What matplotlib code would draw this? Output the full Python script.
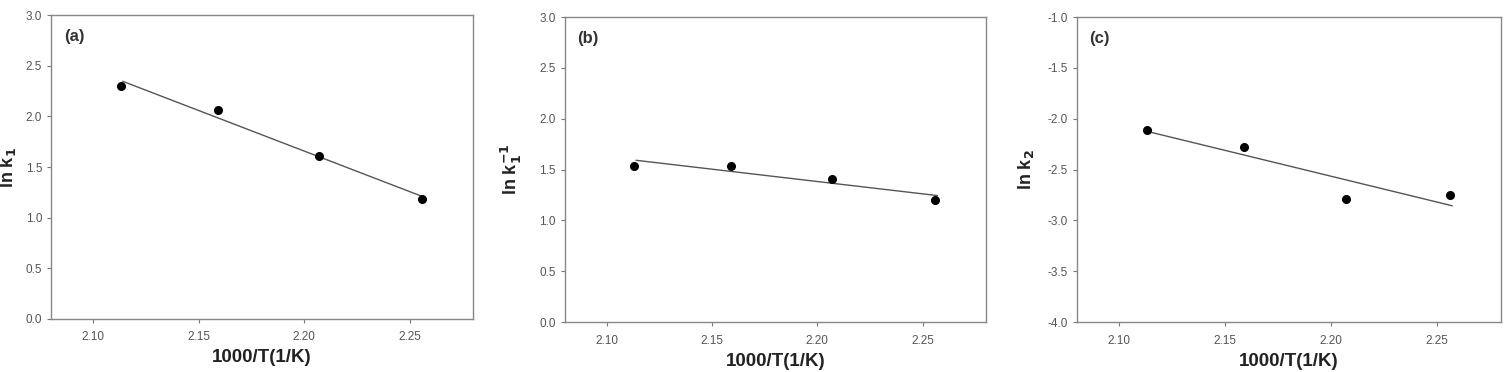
import matplotlib
matplotlib.use("Agg")
import matplotlib.pyplot as plt
import numpy as np

plt.rcParams['font.family'] = ['Liberation Sans', 'DejaVu Sans']

# 1000/T values (1/K)
inv_T = [2.113, 2.159, 2.207, 2.256]

# measured points
ln_k1 = [2.30, 2.06, 1.61, 1.18]
ln_k1r = [1.54, 1.54, 1.41, 1.20]
ln_k2 = [-2.11, -2.28, -2.79, -2.75]

panel_tags = ['(a)', '(b)', '(c)']
ylabels = [r'ln k$_\mathbf{1}$', r'ln k$_\mathbf{1}^\mathbf{-1}$', r'ln k$_\mathbf{2}$']
ylims = [(0.0, 3.0), (0.0, 3.0), (-4.0, -1.0)]
yticks = [np.arange(0.0, 3.01, 0.5), np.arange(0.0, 3.01, 0.5), np.arange(-4.0, -0.99, 0.5)]
xticks = [2.10, 2.15, 2.20, 2.25]

positions = [
    [0.034, 0.1425, 0.280, 0.817],
    [0.375, 0.134, 0.2795, 0.820],
    [0.715, 0.134, 0.2815, 0.820],
]
ylabel_x = [-0.078, -0.096, -0.096]

fig = plt.figure(figsize=(15.06, 3.72), dpi=100)

series = [ln_k1, ln_k1r, ln_k2]
for i in range(3):
    ax = fig.add_axes(positions[i])
    x = np.array(inv_T)
    y = np.array(series[i])
    # linear regression line
    a, b = np.polyfit(x, y, 1)
    xl = np.array([x[0] + 0.001, x[-1] + 0.001])
    ax.plot(xl, a * xl + b, color='#555555', lw=1.0)
    ax.plot(x, y, 'o', color='black', ms=5.5)

    ax.set_xlim(2.08, 2.28)
    ax.set_ylim(*ylims[i])
    ax.set_xticks(xticks)
    ax.set_xticklabels(['%.2f' % t for t in xticks])
    ax.set_yticks(yticks[i])
    ax.set_yticklabels(['%.1f' % t for t in yticks[i]])
    ax.tick_params(direction='out', length=3, width=0.8, colors='#777777',
                   labelsize=8.5, labelcolor='#555555')
    ax.tick_params(axis='x', pad=6)
    for s in ax.spines.values():
        s.set_color('#888888')
        s.set_linewidth(1.0)

    ax.set_xlabel('1000/T(1/K)', fontsize=13.5, fontweight='bold', color='#222222', va='top')
    ax.xaxis.set_label_coords(0.5, -0.10)
    ax.set_ylabel(ylabels[i], fontsize=13, fontweight='bold', color='#222222')
    ax.yaxis.set_label_coords(ylabel_x[i], 0.5)
    ax.text(0.03, 0.955, panel_tags[i], transform=ax.transAxes, fontsize=12,
            fontweight='bold', color='#333333', va='top', ha='left')

fig.savefig('out.png', dpi=100)
